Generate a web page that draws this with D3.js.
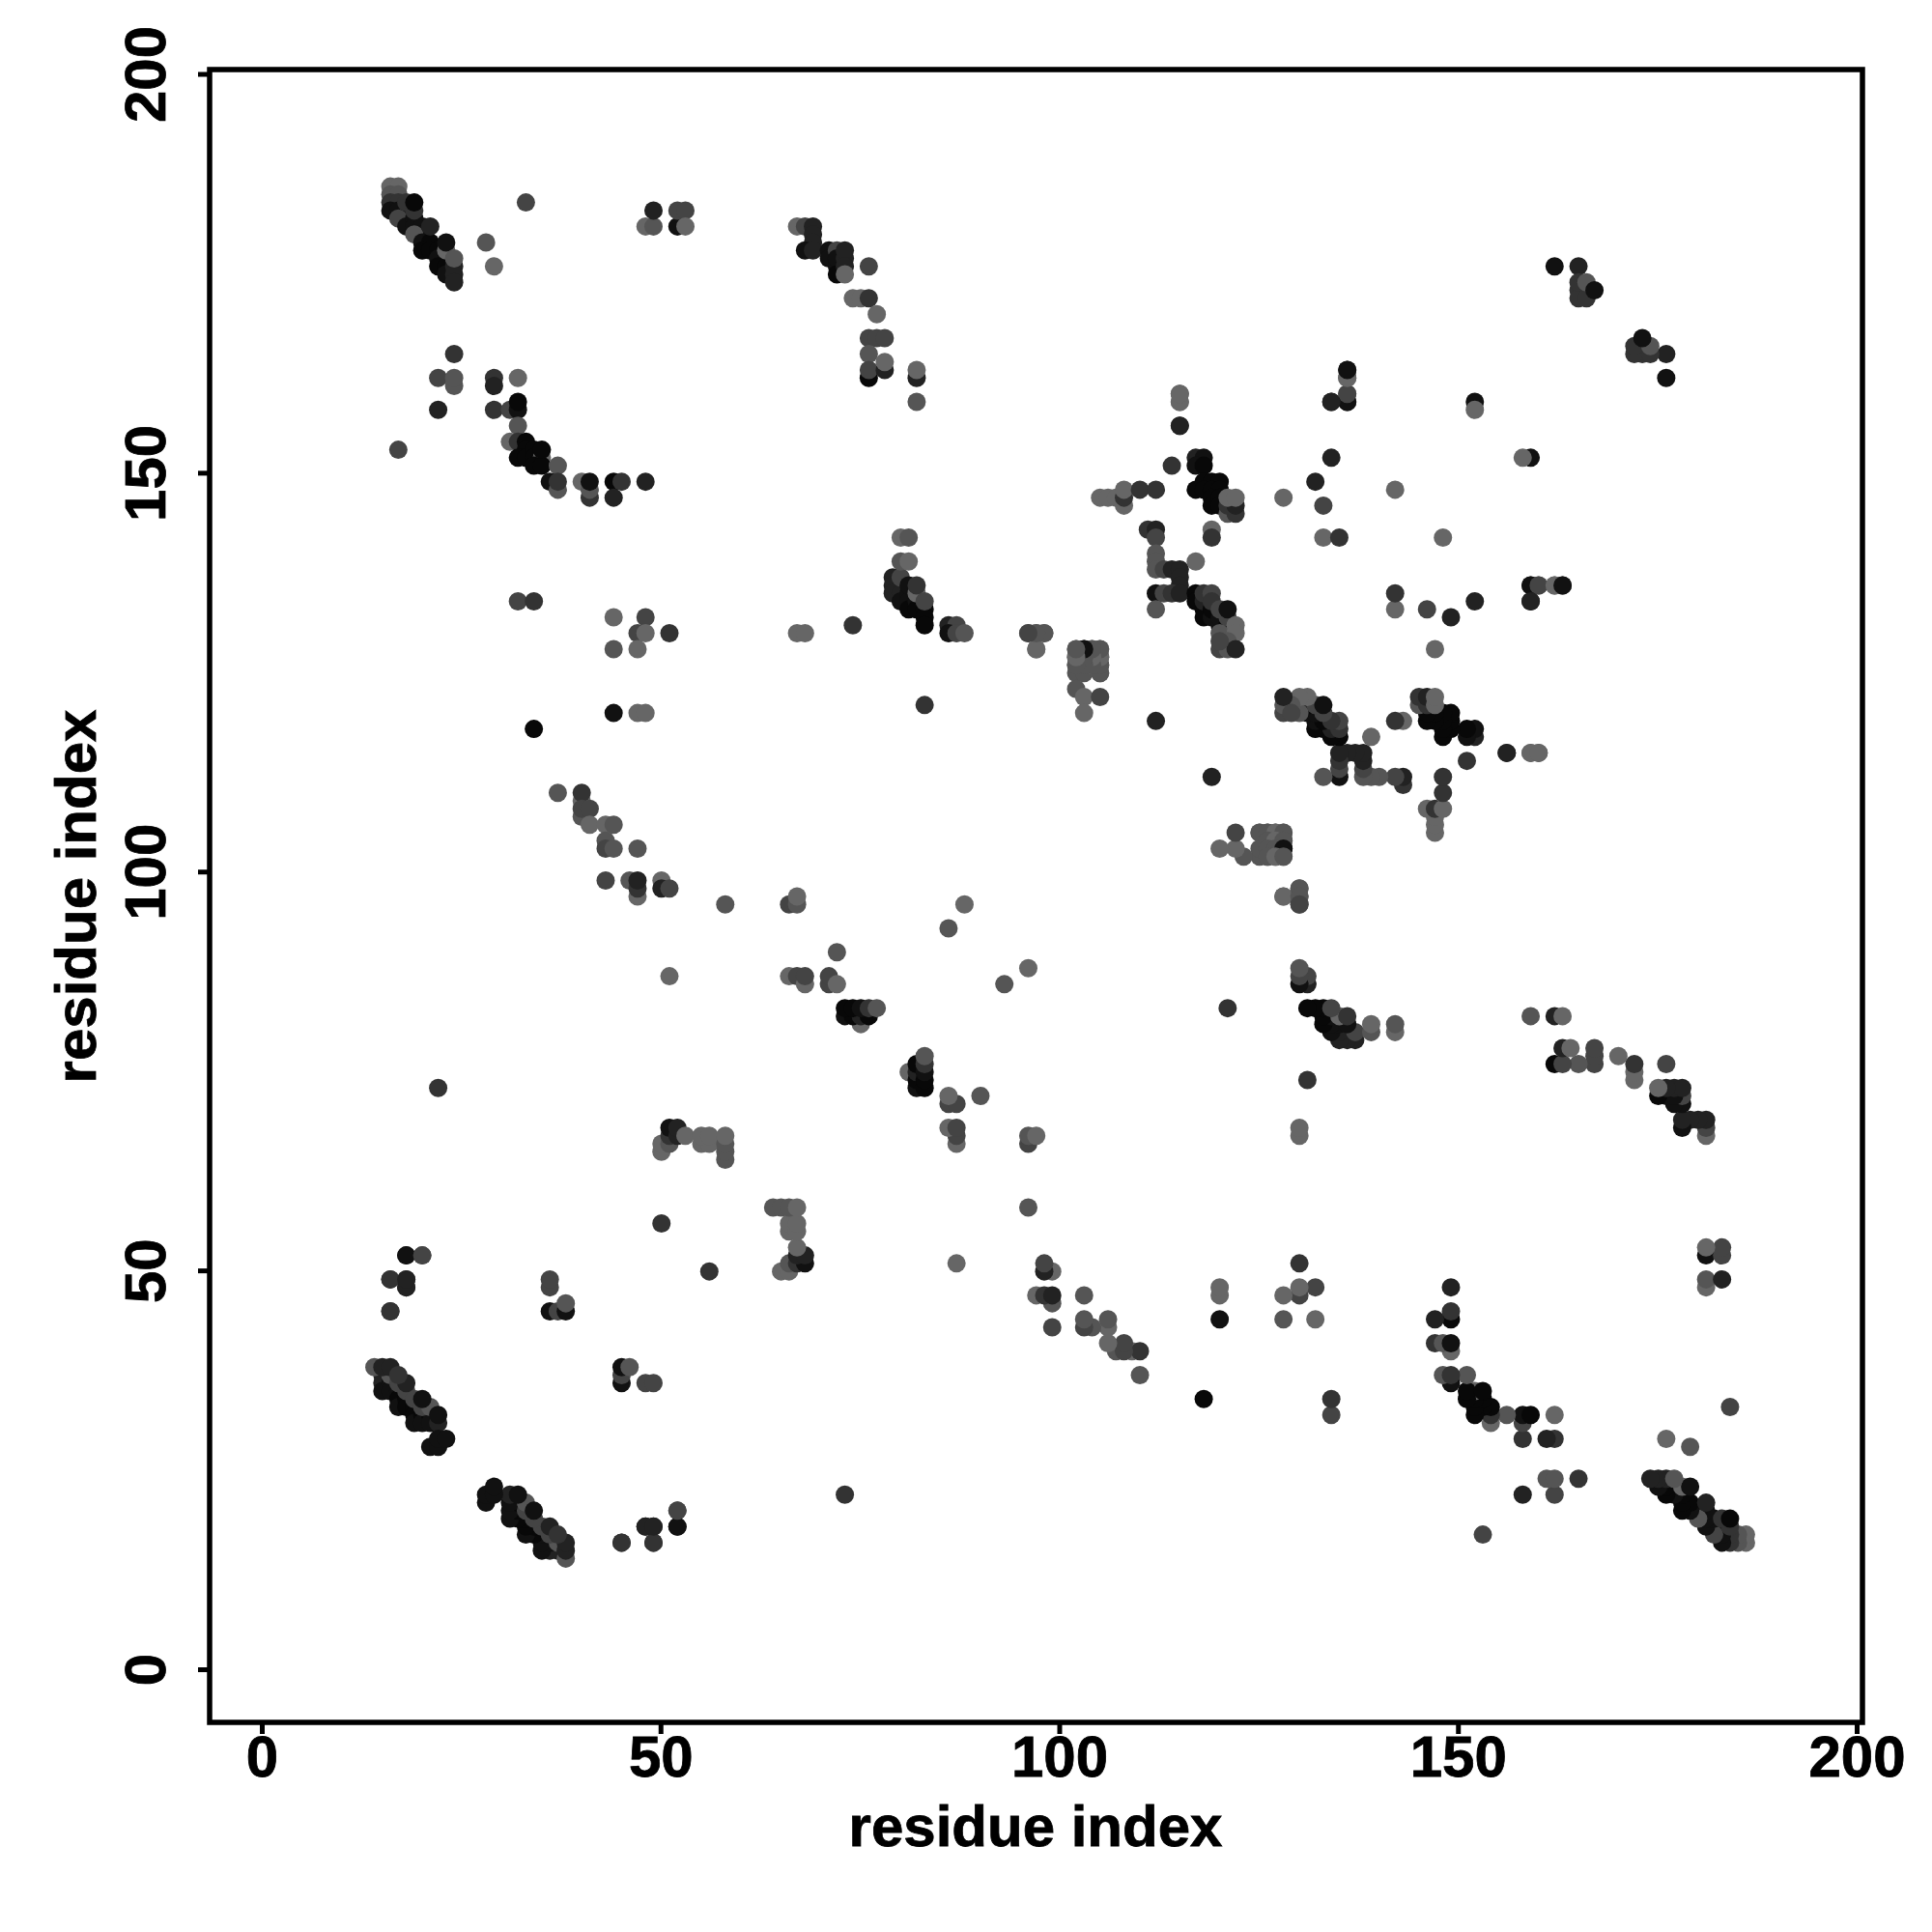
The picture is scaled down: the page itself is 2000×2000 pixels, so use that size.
<!DOCTYPE html>
<html><head><meta charset="utf-8">
<script src="https://cdn.jsdelivr.net/npm/d3@7/dist/d3.min.js"></script>
<style>html,body{margin:0;background:#fff}</style></head>
<body><svg id="c" width="2000" height="2000" xmlns="http://www.w3.org/2000/svg"></svg>
<script>
// Each contact: [residue i, residue j, grey level]. The map is symmetric: (j,i) is drawn as well.
const xTicks = [0, 50, 100, 150, 200];
const yTicks = [0, 50, 100, 150, 200];
const axisLabel = "residue index";

const strandA = [[16,186,102],[17,186,102],[16,185,85],[17,185,85],[16,184,51],[17,184,51],[16,183,17],[17,183,17],[18,183,17],
[18,182,17],[17,182,68],[18,181,17],[19,182,17],[19,181,17],[20,181,17],[20,180,17],[19,180,85],[20,179,17],[21,179,8],[20,178,8],[21,178,8],[22,178,8],
[22,177,17],[23,177,17],[22,176,8],[23,176,8],[23,175,17],[18,184,51],[19,183,51],[19,184,8],[21,181,34],[23,178,102],[23,179,17],[24,176,34],[24,175,34],[24,174,34],[24,177,85]];

const strandF = [[15,37,34],[15,36,34],[15,35,17],[16,36,17],[16,35,17],[17,35,17],[17,34,8],[17,33,17],[18,34,8],[18,33,8],[19,33,8],[19,32,8],[19,31,17],[20,32,8],[20,31,17],[21,32,8],[21,31,17],[22,31,34],
[16,37,85],[17,36,68],[18,35,68],[19,34,68],[20,33,68],[21,33,85],[14,38,85],[15,38,34],[16,38,34],[18,36,34],[17,37,51],[20,34,17],[22,32,17],
[21,28,17],[22,28,17],[22,29,17],[23,29,17]];

const arcB = [[29,162,51],[29,161,34],[32,162,102],[29,158,51],[31,158,68],[32,158,17],[32,159,8],[32,156,85],[31,154,102],[32,154,51],
[33,154,8],[33,153,8],[32,152,8],[33,152,8],[34,153,8],[34,152,8],[35,152,102],[34,151,8],[35,151,8],[35,153,8],[37,151,85],[36,149,17],[37,148,85],[37,149,51],
[40,149,102],[41,147,51],[41,148,85],[41,149,17],[44,149,8],[45,149,51],[44,147,34],[48,149,34]];

const scatterTop = [[22,158,34],[22,162,68],[24,161,85],[24,162,85],[24,165,51],[17,153,68],[28,179,85],[29,176,102],[33,184,68],
[48,181,102],[49,181,85],[49,183,34],[52,181,17],[52,183,68],[53,183,68],[53,181,102],
[32,134,68],[34,134,51],[44,132,102],[48,132,68],[47,130,68],[48,130,102],[51,130,51],[44,128,85],[47,128,102],
[44,120,17],[47,120,102],[48,120,102],[34,118,8]];

const arcMid = [[37,110,85],[40,109,102],[40,110,51],[40,107,85],[40,108,68],[41,108,68],[41,106,102],[43,106,102],[44,106,85],[43,104,85],[43,103,68],[44,103,85],[47,103,85],
[43,99,68],[46,99,85],[47,97,102],[47,98,51],[47,99,34],[50,99,102],[50,98,34],[51,98,68],[58,96,85],[66,96,68],[67,96,85],[67,97,102],[72,90,85],[86,93,85],[88,96,102],
[51,87,102],[66,87,102],[67,87,68],[68,86,102],[68,87,68],[71,86,68],[71,87,68],[72,86,102]];

const helixMid = [[75,81,102],[73,82,17],[74,82,8],[75,82,34],[76,82,8],[73,83,8],[74,83,8],[75,83,17],[76,83,51],[77,83,85],[22,73,51]];

const sheetLow = [[50,65,102],[50,66,102],[51,66,85],[51,67,51],[51,68,17],[52,67,34],[52,68,34],[53,67,102],[55,66,102],[56,66,102],[55,67,102],[56,67,102],
[58,64,85],[58,65,85],[58,66,85],[58,67,102],[50,56,51]];

const scatterLow = [[16,49,51],[18,48,34],[18,49,34],[18,52,34],[20,52,85],[16,45,51],[36,48,68],[36,49,68],[36,45,17],[37,45,68],[38,45,17],[38,46,85]];

const clusterC = [[67,181,102],[68,181,68],[69,181,34],[69,180,34],[69,179,34],[68,178,17],[69,178,34],
[71,178,17],[71,177,17],[72,178,68],[72,176,17],[72,177,17],[73,177,34],[72,175,8],[73,178,34],[73,176,34],[73,175,102],[76,176,68],
[74,172,102],[75,172,102],[76,172,51],[77,170,102],[76,167,68],[77,167,68],[78,167,68],[76,165,85],[76,162,8],[76,163,68],[78,163,34],[78,164,102],
[82,162,34],[82,163,102],[82,159,85]];

const clusterLower = [[79,137,34],[79,136,34],[79,135,34],[80,135,34],[80,134,17],[81,135,17],[81,134,17],[81,133,8],[82,134,17],[82,133,8],[83,133,8],[83,132,8],[83,131,8],
[80,137,68],[81,136,17],[82,135,102],[82,136,51],[83,134,68],[80,142,102],[81,142,85],[80,139,85],[81,139,102],
[74,131,51],[67,130,102],[68,130,102],[83,121,51],[86,131,34],[87,131,68],[86,130,17],[87,130,68],[88,130,85],
[96,130,85],[97,130,85],[98,130,102],[97,128,102]];

const block102 = [[102,128,85],[102,127,85],[102,126,85],[102,125,85],[103,126,85],[103,125,85],[103,127,68],[103,128,17],[104,128,102],[104,127,102],[104,126,102],
[105,128,102],[105,127,85],[105,126,68],[105,125,102],[102,123,85],[103,122,102],[105,122,68],[103,120,102],[112,119,34]];

const clusterD = [[115,160,85],[115,159,102],[115,156,51],[114,151,51],[117,152,34],[118,152,17],[117,151,17],[118,151,8],
[117,148,8],[118,149,8],[119,149,8],[120,149,8],[118,148,8],[119,148,8],[120,148,8],[119,147,8],[119,146,8],[120,147,8],[120,146,8],
[121,145,85],[122,145,51],[121,146,51],[122,146,34],[121,147,102],[122,147,102],
[119,143,102],[119,142,51],[105,147,102],[106,147,102],[107,147,102],[108,146,102],[108,147,51],[108,148,102],[110,148,51],[112,148,51],
[111,143,51],[112,143,34],[112,142,68],[112,140,85],[112,139,85],[112,138,85],[113,138,68],[114,138,34],[115,138,34],[115,137,34],[115,136,34],[117,139,102],
[112,135,17],[113,135,68],[114,135,51],[115,135,34],[112,133,85]];

const clusterE = [[117,135,8],[117,134,8],[118,133,8],[118,132,8],[119,132,17],[120,131,17],[121,130,17],
[118,134,34],[119,133,8],[120,132,17],[121,131,8],[118,135,51],[119,135,68],[119,134,51],[120,133,68],[121,132,68],[121,133,17],
[120,130,85],[122,131,102],[122,130,102],[120,128,68],[121,129,85],[121,128,85],[122,128,34],[120,129,68]];

const clusterF = [[128,147,102],[132,149,34],[134,152,34],[133,146,68],[133,142,102],[135,142,51],[142,148,102],[134,159,34],[136,159,34],[136,160,85],[136,162,85],[136,163,34]];

const farTop = [[152,159,17],[152,158,102],[159,136,17],[160,136,68],[162,136,102],[163,136,17],[159,134,34],[156,115,34],[159,115,102],[160,115,102]];

const corner = [[162,176,17],[165,176,34],[165,173,51],[166,173,68],[165,172,51],[166,172,51],[165,174,51],[166,174,85],[167,173,17]];

const upper126 = [[125,105,85],[126,105,85],[127,105,102],[128,105,85],[126,104,85],[127,104,102],[128,104,85],[126,103,85],[127,103,85],[128,103,17],[126,102,85],[127,102,102],[128,102,85],
[128,97,102],[130,98,85],[130,97,85],[130,96,68]];

const sheetTail = [[49,16,51],[45,16,51],[48,18,34],[49,18,34],[52,18,17],[52,20,68]];

const contactsOnce = [].concat(clusterLower, block102, clusterC, clusterD, clusterE, clusterF, farTop, corner,
  strandA, strandF, arcB, scatterTop, arcMid, helixMid, sheetLow, scatterLow, upper126, sheetTail);

const x = d3.scaleLinear().domain([0, 200]).range([271, 1922]);
const y = d3.scaleLinear().domain([0, 200]).range([1728, 76.5]);

const svg = d3.select("#c").style("font-family", "'Liberation Sans', Arial, sans-serif").style("font-weight", "bold");

const contacts = contactsOnce.flatMap(d => [d, [d[1], d[0], d[2]]]);
svg.append("g").attr("transform", "translate(1,1)").selectAll("circle").data(contacts).join("circle")
  .attr("cx", d => x(d[0])).attr("cy", d => y(d[1])).attr("r", 9.5)
  .attr("fill", d => d3.rgb(d[2], d[2], d[2]).formatHex());

svg.append("rect").attr("x", 217).attr("y", 72).attr("width", 1711).attr("height", 1711)
  .attr("fill", "none").attr("stroke", "#000").attr("stroke-width", 5.5);

const gx = svg.append("g").attr("transform", "translate(0,1783)")
  .call(d3.axisBottom(x).tickValues(xTicks).tickSize(12).tickPadding(0));
gx.select(".domain").remove();
gx.selectAll("line").attr("stroke", "#000").attr("stroke-width", 5);
gx.selectAll("text").attr("fill", "#000").attr("font-size", 60).attr("font-family", "'Liberation Sans'")
  .attr("font-weight", "bold").attr("stroke", "#000").attr("stroke-width", 0.8).attr("dy", 0).attr("y", 56);

const gy = svg.append("g").attr("transform", "translate(217,0)")
  .call(d3.axisLeft(y).tickValues(yTicks).tickSize(12).tickPadding(0));
gy.select(".domain").remove();
gy.selectAll("line").attr("stroke", "#000").attr("stroke-width", 5);
gy.selectAll("text").attr("fill", "#000").attr("font-size", 60).attr("font-family", "'Liberation Sans'")
  .attr("font-weight", "bold").attr("stroke", "#000").attr("stroke-width", 0.8).attr("dy", 0).attr("x", 0).attr("y", 0)
  .attr("text-anchor", "middle").attr("transform", "translate(-46,0) rotate(-90)");

svg.append("text").attr("x", 1072).attr("y", 1911).attr("text-anchor", "middle").attr("font-size", 60)
  .attr("stroke", "#000").attr("stroke-width", 0.8).text(axisLabel);
svg.append("text").attr("transform", "translate(99,928) rotate(-90)").attr("text-anchor", "middle").attr("font-size", 60)
  .attr("stroke", "#000").attr("stroke-width", 0.8).text(axisLabel);
</script>
</body></html>
